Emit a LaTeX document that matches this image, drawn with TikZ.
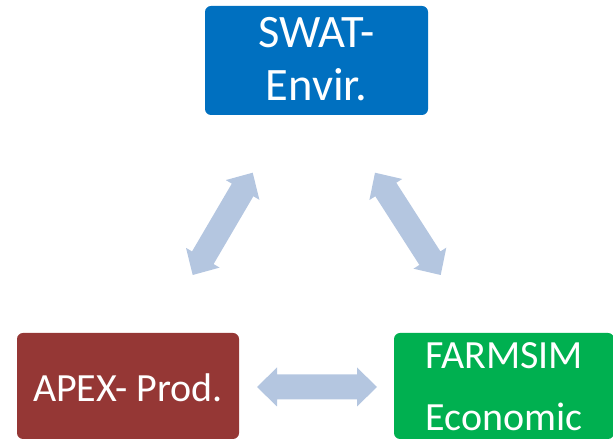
\documentclass[tikz,border=0pt]{standalone}
\usepackage{fontspec}
\setmainfont{Carlito}
\usetikzlibrary{calc}
\definecolor{swatblue}{HTML}{0070C0}
\definecolor{apexred}{HTML}{953735}
\definecolor{farmgreen}{HTML}{00B050}
\definecolor{arrowfill}{HTML}{B4C6E0}
\tikzset{
  box/.style={rounded corners=6pt, inner sep=0pt, draw=none},
  lbl/.style={text=white, align=center, inner sep=0pt},
}
\newcommand\blockarrow[2]{%
  \fill[arrowfill] (#1)
   -- ($(#1)!20pt!(#2)!19.5pt!90:(#2)$)
   -- ($(#1)!20pt!(#2)!12.5pt!90:(#2)$)
   -- ($(#2)!20pt!(#1)!12.5pt!-90:(#1)$)
   -- ($(#2)!20pt!(#1)!19.5pt!-90:(#1)$)
   -- (#2)
   -- ($(#2)!20pt!(#1)!19.5pt!90:(#1)$)
   -- ($(#2)!20pt!(#1)!12.5pt!90:(#1)$)
   -- ($(#1)!20pt!(#2)!12.5pt!-90:(#2)$)
   -- ($(#1)!20pt!(#2)!19.5pt!-90:(#2)$)
   -- cycle;}
\begin{document}
\begin{tikzpicture}[x=1pt,y=1pt]
\useasboundingbox (0,0) rectangle (613,441);
\node[box, fill=swatblue, minimum width=223pt, minimum height=109pt] (swat) at (316.5,380.5) {};
\node[lbl, font=\fontsize{46.5}{53}\selectfont] (swatlbl) at ([yshift=1.5pt]swat.center) {SWAT-\\Envir.};
\node[box, fill=apexred, minimum width=222pt, minimum height=106pt] (apex) at (128,55) {};
\node[lbl, font=\fontsize{40}{48}\selectfont] (apexlbl) at ([yshift=-2.2pt]apex.center) {APEX- Prod.};
\node[box, fill=farmgreen, minimum width=220pt, minimum height=106pt] (farm) at (504,55) {};
\node[lbl, font=\fontsize{40}{62}\selectfont] (farmlbl) at ([yshift=-1pt]farm.center) {FARMSIM\\Economic};
\coordinate (la) at (192.7,166);
\coordinate (lb) at (252.7,268.3);
\coordinate (ra) at (375,268.3);
\coordinate (rb) at (440.7,166);
\coordinate (ba) at (257,54);
\coordinate (bb) at (377,54);
\blockarrow{la}{lb}
\blockarrow{ra}{rb}
\blockarrow{ba}{bb}
\end{tikzpicture}
\end{document}
